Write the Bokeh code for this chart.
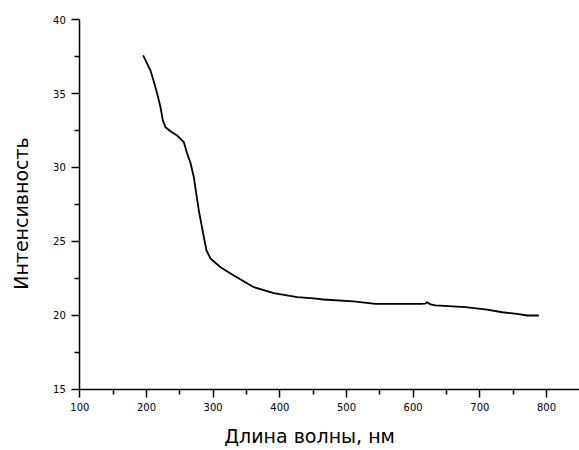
from bokeh.plotting import figure
from bokeh.models import Range1d, FixedTicker, Label
from bokeh.embed import file_html
from bokeh.resources import INLINE
import math

# Spectrum: wavelength (nm) vs intensity
wavelength = [195, 200, 206, 210.5, 216, 221, 224.5, 228.5, 236, 246, 256, 261,
              266, 271, 278.5, 285, 290, 296, 311, 331, 361, 391, 426, 450.5,
              465.5, 510.5, 543.5, 611, 618, 621, 626, 633.5, 678.5, 711, 733.5,
              756, 771, 788.5]
intensity = [37.57, 37.11, 36.55, 35.88, 35.0, 34.07, 33.18, 32.72, 32.45, 32.16,
             31.71, 30.95, 30.3, 29.34, 27.09, 25.54, 24.39, 23.85, 23.26, 22.70,
             21.91, 21.51, 21.24, 21.15, 21.08, 20.95, 20.79, 20.79, 20.80, 20.90,
             20.75, 20.68, 20.56, 20.39, 20.22, 20.11, 20.0, 20.0]

x_ticks = [100, 200, 300, 400, 500, 600, 700, 800]
x_minor = [150, 250, 350, 450, 550, 650, 750, 850]
y_ticks = [15, 20, 25, 30, 35, 40]
y_minor = [17.5, 22.5, 27.5, 32.5, 37.5]

x_title = "Длина волны, нм"
y_title = "Интенсивность"

font = "DejaVu Sans"

# The frame fills the whole canvas; the axes sit at x=100 and y=15 inside it,
# leaving room around them for tick labels and titles.
p = figure(width=579, height=450, output_backend="svg", toolbar_location=None,
           x_range=Range1d(-19, 849.5), y_range=Range1d(10.878, 41.284),
           min_border=0, min_border_left=0, min_border_right=0,
           min_border_top=0, min_border_bottom=0)
p.outline_line_color = None
p.xgrid.visible = False
p.ygrid.visible = False
p.background_fill_color = "white"
p.border_fill_color = "white"

p.line(wavelength, intensity, line_color="black", line_width=1.8,
       line_join="round")

p.xaxis.fixed_location = 15
p.yaxis.fixed_location = 100
p.xaxis.bounds = (100, 850)
p.yaxis.bounds = (15, 40)

for ax, major, minor in ((p.xaxis[0], x_ticks, x_minor), (p.yaxis[0], y_ticks, y_minor)):
    ax.ticker = FixedTicker(ticks=major, minor_ticks=minor)
    ax.axis_line_color = "black"
    ax.axis_line_width = 1.5
    ax.major_tick_line_color = "black"
    ax.major_tick_line_width = 1.5
    ax.minor_tick_line_color = "black"
    ax.minor_tick_line_width = 1.5
    ax.major_tick_in = 0
    ax.major_tick_out = 8
    ax.minor_tick_in = 0
    ax.minor_tick_out = 5
    ax.major_label_text_font = font
    ax.major_label_text_font_size = "10px"
    ax.major_label_text_color = "black"
    ax.major_label_standoff = 6

p.add_layout(Label(x=444.6, y=11.87, text=x_title, text_align="center",
                   text_baseline="alphabetic", text_font=font,
                   text_font_size="19px", text_color="black"))
p.add_layout(Label(x=11.05, y=26.89, text=y_title, angle=math.pi / 2,
                   text_align="center", text_baseline="middle",
                   text_font=font, text_font_size="19px", text_color="black"))

open("out.html", "w").write(file_html(p, INLINE))
